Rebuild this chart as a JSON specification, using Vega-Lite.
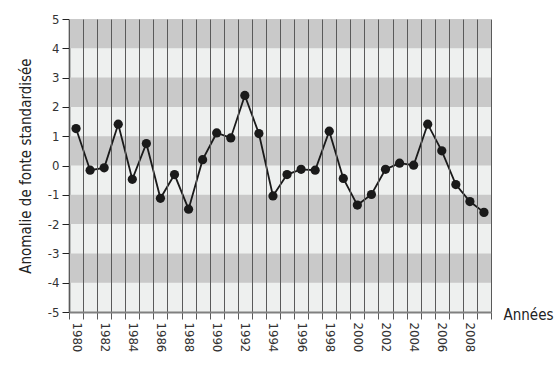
{
  "$schema": "https://vega.github.io/schema/vega-lite/v6.json",
  "autosize": {"type": "none"},
  "width": 422,
  "height": 293,
  "padding": {"left": 69, "top": 19, "right": 69, "bottom": 56},
  "background": "white",
  "config": {
    "view": {"stroke": null, "fill": "#eef0ef"},
    "font": "DejaVu Sans Condensed, Liberation Sans, sans-serif",
    "axis": {"labelFont": "DejaVu Sans Condensed, Liberation Sans, sans-serif", "titleFont": "DejaVu Sans Condensed, Liberation Sans, sans-serif", "labelOverlap": false}
  },
  "datasets": {
    "bands": [
      {"lo": 4, "hi": 5},
      {"lo": 2, "hi": 3},
      {"lo": 0, "hi": 1},
      {"lo": -2, "hi": -1},
      {"lo": -4, "hi": -3}
    ],
    "series": [
      {"annee": 1980, "anomalie": 1.26},
      {"annee": 1981, "anomalie": -0.16},
      {"annee": 1982, "anomalie": -0.08},
      {"annee": 1983, "anomalie": 1.41},
      {"annee": 1984, "anomalie": -0.47},
      {"annee": 1985, "anomalie": 0.75},
      {"annee": 1986, "anomalie": -1.12},
      {"annee": 1987, "anomalie": -0.31},
      {"annee": 1988, "anomalie": -1.49},
      {"annee": 1989, "anomalie": 0.2},
      {"annee": 1990, "anomalie": 1.11},
      {"annee": 1991, "anomalie": 0.94},
      {"annee": 1992, "anomalie": 2.39},
      {"annee": 1993, "anomalie": 1.09},
      {"annee": 1994, "anomalie": -1.04},
      {"annee": 1995, "anomalie": -0.31},
      {"annee": 1996, "anomalie": -0.13},
      {"annee": 1997, "anomalie": -0.16},
      {"annee": 1998, "anomalie": 1.17},
      {"annee": 1999, "anomalie": -0.44},
      {"annee": 2000, "anomalie": -1.35},
      {"annee": 2001, "anomalie": -0.99},
      {"annee": 2002, "anomalie": -0.13},
      {"annee": 2003, "anomalie": 0.08},
      {"annee": 2004, "anomalie": 0.01},
      {"annee": 2005, "anomalie": 1.41},
      {"annee": 2006, "anomalie": 0.5},
      {"annee": 2007, "anomalie": -0.65},
      {"annee": 2008, "anomalie": -1.23},
      {"annee": 2009, "anomalie": -1.6}
    ]
  },
  "layer": [
    {
      "data": {"name": "bands"},
      "mark": {"type": "rect", "color": "#c9c9c9"},
      "encoding": {
        "x": {"datum": 1979.5, "type": "quantitative", "scale": {"domain": [1979.5, 2009.5], "nice": false, "zero": false},
          "axis": {
            "orient": "bottom", "tickCount": 40,
            "values": [1979.5,1980.5,1981.5,1982.5,1983.5,1984.5,1985.5,1986.5,1987.5,1988.5,1989.5,1990.5,1991.5,1992.5,1993.5,1994.5,1995.5,1996.5,1997.5,1998.5,1999.5,2000.5,2001.5,2002.5,2003.5,2004.5,2005.5,2006.5,2007.5,2008.5,2009.5],
            "labels": false, "title": null,
            "grid": true, "gridColor": "#5a5a5a", "gridWidth": 1, "gridOpacity": 1,
            "ticks": true, "tickSize": 7, "tickColor": "#5a5a5a", "tickWidth": 1,
            "domain": true, "domainColor": "#808080", "domainWidth": 2,
            "zindex": 1
          }},
        "x2": {"datum": 2009.5},
        "y": {"field": "lo", "type": "quantitative", "scale": {"domain": [-5, 5], "nice": false},
          "axis": {
            "values": [-5,-4,-3,-2,-1,0,1,2,3,4,5], "tickCount": 20, "labelOverlap": false, "labelExpr": "'' + datum.value",
            "grid": false, "tickSize": 7, "tickColor": "#222", "domainColor": "#222", "domainWidth": 1.5,
            "labelFontSize": 13, "labelColor": "#333", "labelPadding": 3,
            "title": "Anomalie de fonte standardisée", "titleFontSize": 15, "titleFontWeight": "normal", "titleColor": "#222", "titlePadding": 14
          }},
        "y2": {"field": "hi"}
      }
    },
    {
      "data": {"name": "series"},
      "mark": {"type": "line", "color": "#1a1a1a", "strokeWidth": 1.8},
      "encoding": {
        "x": {"field": "annee", "type": "quantitative",
          "axis": {
            "orient": "bottom", "tickCount": 40,
            "values": [1980,1982,1984,1986,1988,1990,1992,1994,1996,1998,2000,2002,2004,2006,2008],
            "format": "d", "labelAngle": 90, "labelPadding": 10, "labelFontSize": 13, "labelColor": "#333", "labelOverlap": false,
            "ticks": false, "domain": false, "grid": false,
            "title": "Années", "titleFontSize": 15, "titleFontWeight": "normal", "titleColor": "#222",
            "titleAnchor": "end", "titleAlign": "left", "titleBaseline": "middle", "titleX": 434, "titleY": 2
          }},
        "y": {"field": "anomalie", "type": "quantitative",
          "axis": {
            "values": [-5,-4,-3,-2,-1,0,1,2,3,4,5], "tickCount": 20, "labelOverlap": false, "labelExpr": "'' + datum.value",
            "grid": false, "tickSize": 7, "tickColor": "#222", "domainColor": "#222", "domainWidth": 1.5,
            "labelFontSize": 13, "labelColor": "#333", "labelPadding": 3,
            "title": "Anomalie de fonte standardisée", "titleFontSize": 15, "titleFontWeight": "normal", "titleColor": "#222", "titlePadding": 14
          }}
      }
    },
    {
      "data": {"name": "series"},
      "mark": {"type": "point", "filled": true, "color": "#1a1a1a", "size": 85, "opacity": 1},
      "encoding": {
        "x": {"field": "annee", "type": "quantitative", "axis": null},
        "y": {"field": "anomalie", "type": "quantitative"}
      }
    }
  ],
  "resolve": {"axis": {"x": "independent"}}
}
